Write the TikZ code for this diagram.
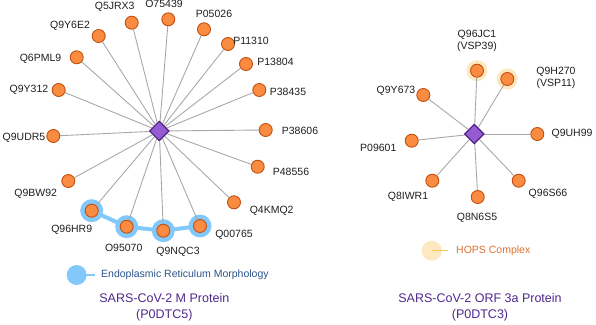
\documentclass[tikz,border=0pt]{standalone}
\usepackage{fontspec}
\setmainfont{Liberation Sans}
\definecolor{orfill}{RGB}{249,140,64}
\definecolor{ordraw}{RGB}{196,78,16}
\definecolor{edgegray}{RGB}{168,168,168}
\definecolor{bluehalo}{RGB}{130,200,250}
\definecolor{hopshalo}{RGB}{253,232,192}
\definecolor{hopsline}{RGB}{248,200,90}
\definecolor{dfill}{RGB}{150,90,210}
\definecolor{ddraw}{RGB}{72,28,128}
\definecolor{titlecol}{RGB}{78,40,140}
\definecolor{ertext}{RGB}{44,84,140}
\definecolor{hopstext}{RGB}{222,112,44}
\tikzset{
  prot/.style={circle,fill=orfill,draw=ordraw,line width=0.9pt,minimum size=13pt,inner sep=0pt},
  hub/.style={diamond,fill=dfill,draw=ddraw,line width=1pt,minimum size=19.5pt,inner sep=0pt},
  lbl/.style={font=\fontsize{10.5}{12}\selectfont,text=black!88,inner sep=0pt,align=center},
  edge/.style={draw=edgegray,line width=0.9pt},
  bhalo/.style={circle,fill=bluehalo,minimum size=23pt,inner sep=0pt},
  hhalo/.style={circle,fill=hopshalo,minimum size=21pt,inner sep=0pt},
  title/.style={font=\fontsize{12.5}{16}\selectfont,text=titlecol,align=center,inner sep=0pt},
}
\usetikzlibrary{shapes.geometric}
\begin{document}
\begin{tikzpicture}[x=1pt,y=-1pt]
\useasboundingbox (0,0) rectangle (596,324);
% ---------- left network: coordinates
\coordinate (cM) at (159.3,131);
\coordinate (pQ5JRX3) at (131.7,22.7);
\coordinate (pO75439) at (168.3,19.3);
\coordinate (pP05026) at (204,29.3);
\coordinate (pP11310) at (228,44);
\coordinate (pP13804) at (246,64);
\coordinate (pP38435) at (259.3,90);
\coordinate (pP38606) at (265.7,130);
\coordinate (pP48556) at (257.7,166.7);
\coordinate (pQ4KMQ2) at (234,202.3);
\coordinate (pQ00765) at (200,226);
\coordinate (pQ9NQC3) at (163.3,230.7);
\coordinate (pO95070) at (126.7,226.7);
\coordinate (pQ96HR9) at (91.7,210.7);
\coordinate (pQ9BW92) at (68.3,181);
\coordinate (pQ9UDR5) at (53.3,136);
\coordinate (pQ9Y312) at (58.7,90);
\coordinate (pQ6PML9) at (76.7,57.3);
\coordinate (pQ9Y6E2) at (98.7,36);
% halos
\foreach \n in {Q96HR9,O95070,Q9NQC3,Q00765}{\node[bhalo] (h\n) at (p\n) {};}
\draw[bluehalo,line width=4pt,line join=round] (hQ96HR9.center) -- (hO95070.center) -- (hQ9NQC3.center) -- (hQ00765.center);
% edges and nodes
\node[hub] (M) at (cM) {};
\foreach \n in {Q5JRX3,O75439,P05026,P11310,P13804,P38435,P38606,P48556,Q4KMQ2,Q00765,Q9NQC3,O95070,Q96HR9,Q9BW92,Q9UDR5,Q9Y312,Q6PML9,Q9Y6E2}{
  \node[prot] (\n) at (p\n) {};
  \draw[edge] (M.center) -- (\n);
}
\node[hub] at (cM) {};
% labels
\node[lbl] (lQ5JRX3) at (114.7,7.3) {Q5JRX3};
\node[lbl] (lO75439) at (164,4) {O75439};
\node[lbl] (lP05026) at (214,14) {P05026};
\node[lbl] (lP11310) at (251,41) {P11310};
\node[lbl] (lP13804) at (275.5,62) {P13804};
\node[lbl] (lP38435) at (288,92) {P38435};
\node[lbl] (lP38606) at (300,130.5) {P38606};
\node[lbl] (lP48556) at (291,172) {P48556};
\node[lbl] (lQ4KMQ2) at (271.7,211) {Q4KMQ2};
\node[lbl] (lQ00765) at (234,235) {Q00765};
\node[lbl] (lQ9NQC3) at (178,251.7) {Q9NQC3};
\node[lbl] (lO95070) at (123.7,248.3) {O95070};
\node[lbl] (lQ96HR9) at (71.7,230) {Q96HR9};
\node[lbl] (lQ9BW92) at (35.7,194.3) {Q9BW92};
\node[lbl] (lQ9UDR5) at (24,138) {Q9UDR5};
\node[lbl] (lQ9Y312) at (29,90) {Q9Y312};
\node[lbl] (lQ6PML9) at (40.5,59) {Q6PML9};
\node[lbl] (lQ9Y6E2) at (70,26) {Q9Y6E2};
% legend ER
\node[circle,fill=bluehalo,minimum size=20pt,inner sep=0pt] (legER) at (76.7,275) {};
\coordinate (legERend) at (95,275);
\draw[bluehalo,line width=1.4pt] (legER.center) -- (legERend);
\node[font=\fontsize{10.5}{12}\selectfont,text=ertext,anchor=west,inner sep=0pt] (legERtxt) at (101,275) {Endoplasmic Reticulum Morphology};
\node[title] (titleM) at (164.3,307) {SARS-CoV-2 M Protein\\(P0DTC5)};
% ---------- right network
\coordinate (cR) at (474.3,134);
\coordinate (pQ96JC1) at (477,70.7);
\coordinate (pQ9H270) at (507.3,79);
\coordinate (pQ9Y673) at (423.3,95);
\coordinate (pP09601) at (411.7,140.7);
\coordinate (pQ9UH99) at (537.3,134);
\coordinate (pQ8IWR1) at (432.3,180.7);
\coordinate (pQ96S66) at (518.7,180.7);
\coordinate (pQ8N6S5) at (477.7,197);
\foreach \n in {Q96JC1,Q9H270}{\node[hhalo] (h\n) at (p\n) {};}
\node[hub] (R) at (cR) {};
\foreach \n in {Q96JC1,Q9H270,Q9Y673,P09601,Q9UH99,Q8IWR1,Q96S66,Q8N6S5}{
  \node[prot] (\n) at (p\n) {};
  \draw[edge] (R.center) -- (\n);
}
\node[hub] at (cR) {};
\node[lbl] (lQ96JC1) at (477,41) {Q96JC1\\(VSP39)};
\node[lbl] (lQ9H270) at (556,78) {Q9H270\\(VSP11)};
\node[lbl] (lQ9Y673) at (396,91) {Q9Y673};
\node[lbl] (lP09601) at (378.3,148.3) {P09601};
\node[lbl] (lQ9UH99) at (572,134) {Q9UH99};
\node[lbl] (lQ8IWR1) at (408,196.5) {Q8IWR1};
\node[lbl] (lQ96S66) at (548,194) {Q96S66};
\node[lbl] (lQ8N6S5) at (477,218.3) {Q8N6S5};
% legend HOPS
\node[circle,fill=hopshalo,minimum size=20pt,inner sep=0pt] (legH) at (431.7,250.7) {};
\coordinate (legHend) at (448,250.7);
\draw[hopsline,line width=1pt] (legH.center) -- (legHend);
\node[font=\fontsize{10.5}{12}\selectfont,text=hopstext,anchor=west,inner sep=0pt] (legHtxt) at (456,250.7) {HOPS Complex};
\node[title] (titleR) at (480,307) {SARS-CoV-2 ORF 3a Protein\\(P0DTC3)};
\end{tikzpicture}
\end{document}
